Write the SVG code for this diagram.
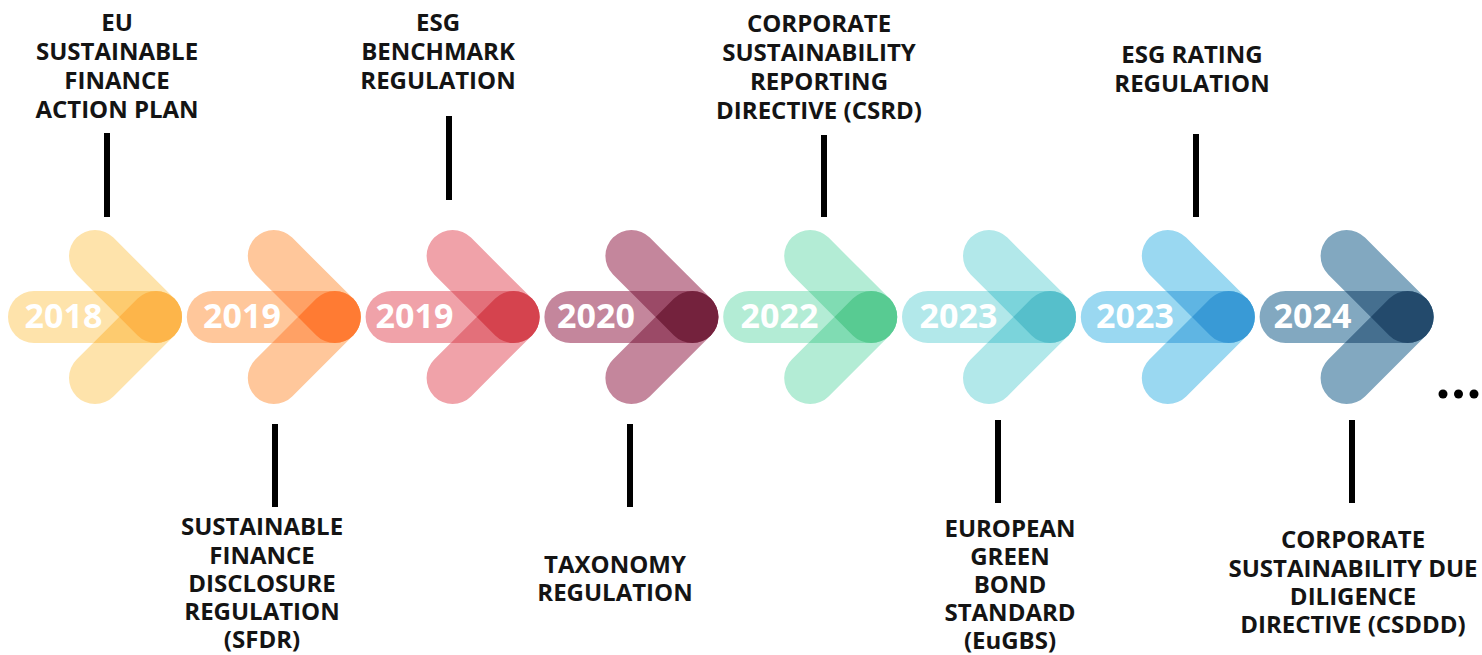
<svg xmlns="http://www.w3.org/2000/svg" xmlns:xlink="http://www.w3.org/1999/xlink" width="1482" height="655" viewBox="0 0 1482 655">
<style>
.yr{font-family:"Open Sans","Liberation Sans",sans-serif;font-weight:700;font-size:34px;fill:#ffffff;text-anchor:middle}
.lb{font-family:"Open Sans","Liberation Sans",sans-serif;font-weight:700;font-size:24px;fill:#141414;text-anchor:middle}
.cn line{stroke:#000;stroke-width:6}
.k1 .l{fill:#FEE3AB;stroke:#FEE3AB}.k1 .m{stroke:#FDCB6F}.k1 .d{fill:#FDB54A}
.k2 .l{fill:#FFC79B;stroke:#FFC79B}.k2 .m{stroke:#FFA165}.k2 .d{fill:#FF7B33}
.k3 .l{fill:#F0A2A9;stroke:#F0A2A9}.k3 .m{stroke:#E3707A}.k3 .d{fill:#D5434E}
.k4 .l{fill:#C4869C;stroke:#C4869C}.k4 .m{stroke:#9B4A67}.k4 .d{fill:#74223D}
.k5 .l{fill:#B3ECD5;stroke:#B3ECD5}.k5 .m{stroke:#80DCB3}.k5 .d{fill:#58CB92}
.k6 .l{fill:#B2E8EA;stroke:#B2E8EA}.k6 .m{stroke:#7BD4DB}.k6 .d{fill:#56BFCB}
.k7 .l{fill:#9AD8F1;stroke:#9AD8F1}.k7 .m{stroke:#5FB5E3}.k7 .d{fill:#399AD6}
.k8 .l{fill:#82A8C0;stroke:#82A8C0}.k8 .m{stroke:#456F8F}.k8 .d{fill:#234A6C}
</style>
<defs>
<rect id="pill" x="-148" y="-26" width="174" height="52" rx="26" stroke="none"/>
<path id="arms" d="M-61,-61 L0,0 L-61,61" fill="none" stroke-width="52" stroke-linecap="round" stroke-linejoin="round"/>
<path id="lens" d="M-36.77,0 L-18.38,-18.38 A26,26 0 1 1 -18.38,18.38 Z" stroke="none"/>
<clipPath id="pc" clipPathUnits="userSpaceOnUse"><rect x="-148" y="-26" width="174" height="52" rx="26"/></clipPath>
</defs>
<rect width="1482" height="655" fill="#ffffff"/>

<g id="arrow-2018" class="k1">
<g transform="translate(156,317)"><use href="#pill" class="l"/><use href="#arms" class="l"/><use href="#arms" class="m" clip-path="url(#pc)"/><use href="#lens" class="d"/></g>
<text class="yr" x="63.5" y="328">2018</text>
</g>
<g id="arrow-2019-sfdr" class="k2">
<g transform="translate(334.8,317)"><use href="#pill" class="l"/><use href="#arms" class="l"/><use href="#arms" class="m" clip-path="url(#pc)"/><use href="#lens" class="d"/></g>
<text class="yr" x="242" y="328">2019</text>
</g>
<g id="arrow-2019-esg" class="k3">
<g transform="translate(513.6,317)"><use href="#pill" class="l"/><use href="#arms" class="l"/><use href="#arms" class="m" clip-path="url(#pc)"/><use href="#lens" class="d"/></g>
<text class="yr" x="414.5" y="328">2019</text>
</g>
<g id="arrow-2020" class="k4">
<g transform="translate(692.4,317)"><use href="#pill" class="l"/><use href="#arms" class="l"/><use href="#arms" class="m" clip-path="url(#pc)"/><use href="#lens" class="d"/></g>
<text class="yr" x="596" y="328">2020</text>
</g>
<g id="arrow-2022" class="k5">
<g transform="translate(871.2,317)"><use href="#pill" class="l"/><use href="#arms" class="l"/><use href="#arms" class="m" clip-path="url(#pc)"/><use href="#lens" class="d"/></g>
<text class="yr" x="779.5" y="328">2022</text>
</g>
<g id="arrow-2023-eugbs" class="k6">
<g transform="translate(1050,317)"><use href="#pill" class="l"/><use href="#arms" class="l"/><use href="#arms" class="m" clip-path="url(#pc)"/><use href="#lens" class="d"/></g>
<text class="yr" x="958.5" y="328">2023</text>
</g>
<g id="arrow-2023-rating" class="k7">
<g transform="translate(1228.8,317)"><use href="#pill" class="l"/><use href="#arms" class="l"/><use href="#arms" class="m" clip-path="url(#pc)"/><use href="#lens" class="d"/></g>
<text class="yr" x="1135" y="328">2023</text>
</g>
<g id="arrow-2024" class="k8">
<g transform="translate(1407.6,317)"><use href="#pill" class="l"/><use href="#arms" class="l"/><use href="#arms" class="m" clip-path="url(#pc)"/><use href="#lens" class="d"/></g>
<text class="yr" x="1312.5" y="328">2024</text>
</g>

<g id="connectors" class="cn">
<line x1="107" y1="133" x2="107" y2="217"/>
<line x1="275" y1="424" x2="275" y2="507"/>
<line x1="449" y1="116" x2="449" y2="200"/>
<line x1="630" y1="424" x2="630" y2="507"/>
<line x1="824" y1="135" x2="824" y2="217"/>
<line x1="998" y1="420" x2="998" y2="503"/>
<line x1="1196" y1="134" x2="1196" y2="217"/>
<line x1="1352" y1="420" x2="1352" y2="503"/>
</g>

<g id="label-eu-sfap">
<text class="lb" x="117" y="31">EU</text>
<text class="lb" x="117" y="60">SUSTAINABLE</text>
<text class="lb" x="117" y="89">FINANCE</text>
<text class="lb" x="117" y="118">ACTION PLAN</text>
</g>
<g id="label-sfdr">
<text class="lb" x="262" y="535">SUSTAINABLE</text>
<text class="lb" x="262" y="564">FINANCE</text>
<text class="lb" x="262" y="592">DISCLOSURE</text>
<text class="lb" x="262" y="620">REGULATION</text>
<text class="lb" x="262" y="648">(SFDR)</text>
</g>
<g id="label-esg-benchmark">
<text class="lb" x="438" y="31">ESG</text>
<text class="lb" x="438" y="60">BENCHMARK</text>
<text class="lb" x="438" y="89">REGULATION</text>
</g>
<g id="label-taxonomy">
<text class="lb" x="615" y="573">TAXONOMY</text>
<text class="lb" x="615" y="601">REGULATION</text>
</g>
<g id="label-csrd">
<text class="lb" x="819" y="32">CORPORATE</text>
<text class="lb" x="819" y="61">SUSTAINABILITY</text>
<text class="lb" x="819" y="90">REPORTING</text>
<text class="lb" x="819" y="119">DIRECTIVE (CSRD)</text>
</g>
<g id="label-eugbs">
<text class="lb" x="1010" y="537">EUROPEAN</text>
<text class="lb" x="1010" y="565">GREEN</text>
<text class="lb" x="1010" y="593">BOND</text>
<text class="lb" x="1010" y="621">STANDARD</text>
<text class="lb" x="1010" y="649">(EuGBS)</text>
</g>
<g id="label-esg-rating">
<text class="lb" x="1192" y="63">ESG RATING</text>
<text class="lb" x="1192" y="92">REGULATION</text>
</g>
<g id="label-csddd">
<text class="lb" x="1353" y="548">CORPORATE</text>
<text class="lb" x="1353" y="577">SUSTAINABILITY DUE</text>
<text class="lb" x="1353" y="605">DILIGENCE</text>
<text class="lb" x="1353" y="633">DIRECTIVE (CSDDD)</text>
</g>

<g id="ellipsis" fill="#000">
<circle cx="1443" cy="394" r="4.5"/>
<circle cx="1458.5" cy="394" r="4.5"/>
<circle cx="1474" cy="394" r="4.5"/>
</g>
</svg>
